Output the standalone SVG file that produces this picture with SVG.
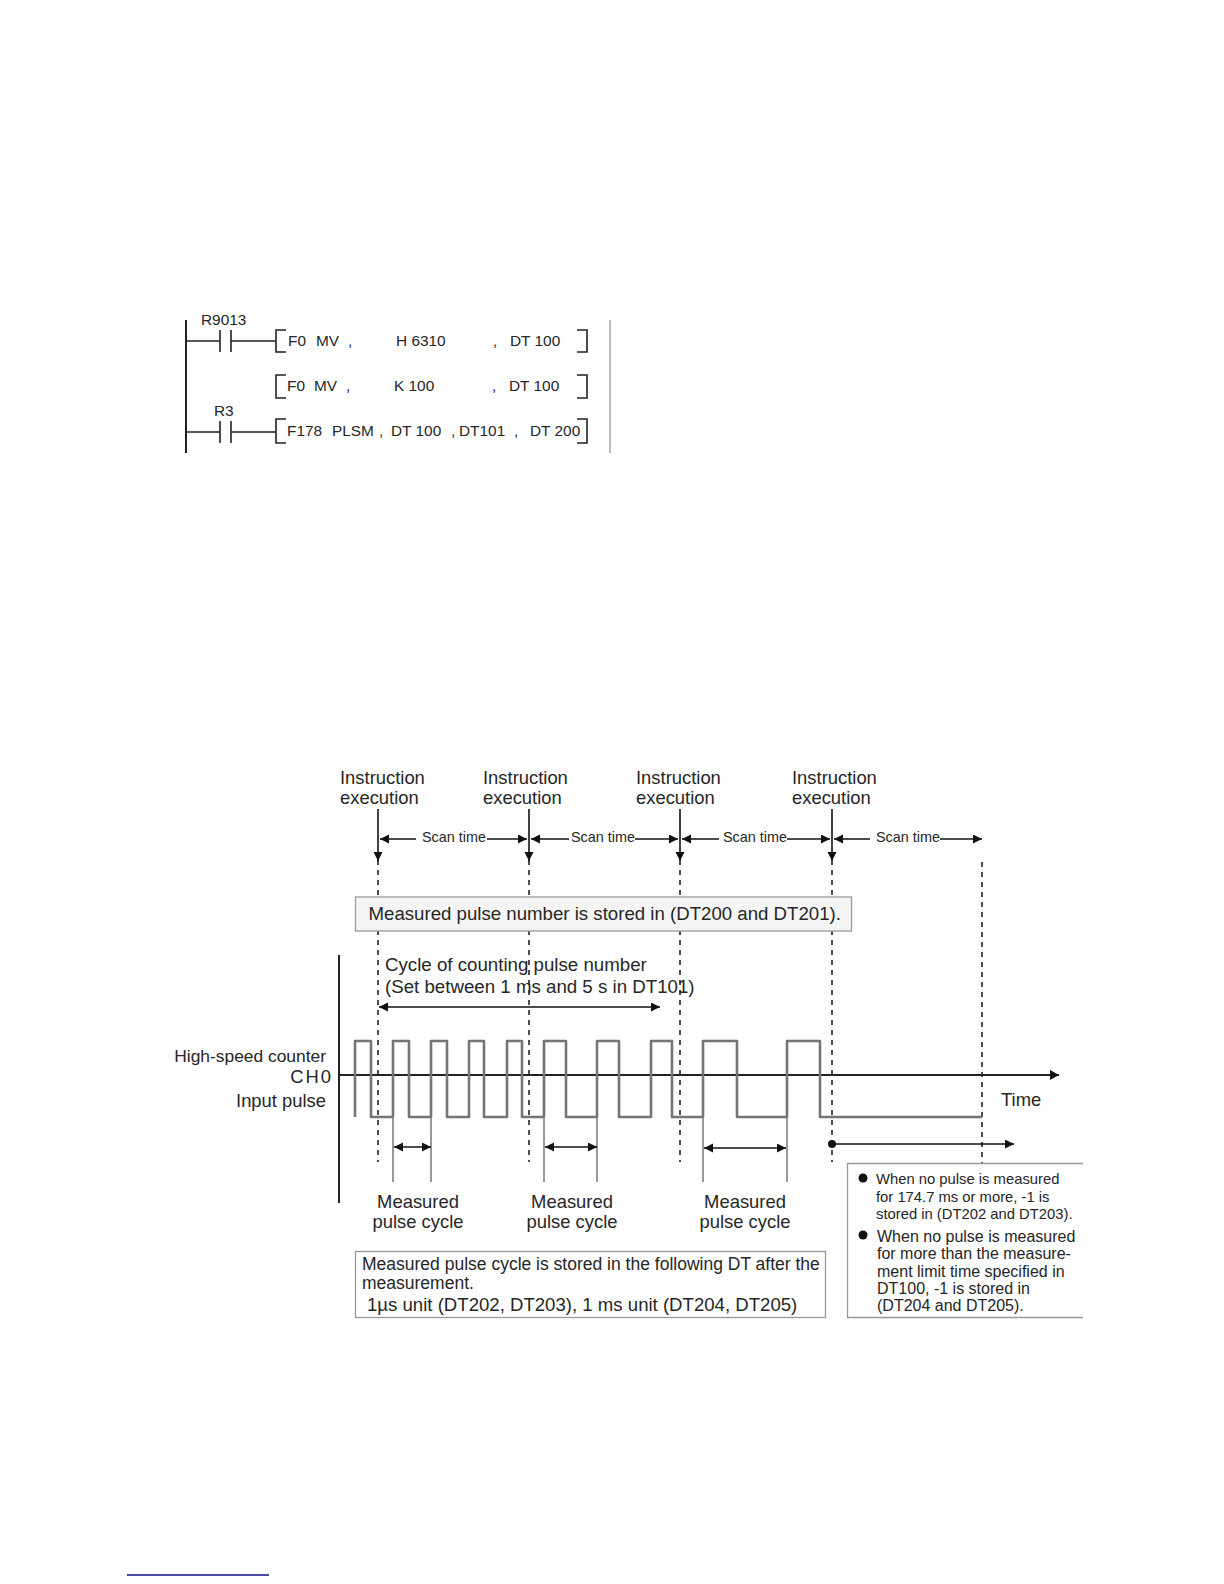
<svg xmlns="http://www.w3.org/2000/svg" width="1224" height="1584" viewBox="0 0 1224 1584">
<defs>
<marker id="ah" markerUnits="userSpaceOnUse" markerWidth="12" markerHeight="12" refX="9" refY="4.5" orient="auto-start-reverse"><path d="M0 0L9 4.5L0 9Z" fill="#111"/></marker>
<marker id="big" markerUnits="userSpaceOnUse" markerWidth="10" markerHeight="12" refX="9" refY="5" orient="auto"><path d="M0 0L9 5L0 10Z" fill="#111"/></marker>
</defs>
<style>
text{font-family:"Liberation Sans",Arial,sans-serif;fill:#262626}
.l{font-size:15.4px}
.t{font-size:18.4px}
.s{font-size:14.4px}
.n1{font-size:14.8px}
.n2{font-size:16px}
.m{text-anchor:middle}
.r{text-anchor:end}
.k{stroke:#222;fill:none;stroke-width:1.6}
.rail{stroke:#222;fill:none;stroke-width:2}
.a{stroke:#111;fill:none;stroke-width:1.6;marker-start:url(#ah);marker-end:url(#ah)}
.a1{stroke:#111;fill:none;stroke-width:1.6;marker-end:url(#ah)}
.d{stroke:#222;fill:none;stroke-width:1.6;stroke-dasharray:5 5}
.p{stroke:#757575;fill:none;stroke-width:2.6;stroke-linejoin:round}
.g{stroke:#808080;fill:none;stroke-width:1.6}
.b{stroke:#999;stroke-width:1.3;fill:#fff}
</style>
<rect width="1224" height="1584" fill="#fff"/>

<g id="ladder">
<path class="rail" d="M186 320V453"/>
<path d="M610 320V453" stroke="#aaa" stroke-width="1.6" fill="none"/>
<path class="k" d="M186 341H220M220 330V352M231 330V352M231 341H276"/>
<path class="k" d="M186 432H220M220 421V443M231 421V443M231 432H276"/>
<path class="k" d="M286 330H276V352H286M577 330H587V352H577"/>
<path class="k" d="M286 375H276V398H286M577 375H587V398H577"/>
<path class="k" d="M286 419H276V443H286M577 419H587V443H577"/>
<text class="l" x="201" y="325">R9013</text>
<text class="l" x="288" y="346">F0</text><text class="l" x="316" y="346">MV</text><text class="l" x="348" y="346">,</text><text class="l" x="396" y="346">H 6310</text><text class="l" x="493" y="346">,</text><text class="l" x="510" y="346">DT 100</text>
<text class="l" x="287" y="391">F0</text><text class="l" x="314" y="391">MV</text><text class="l" x="346" y="391">,</text><text class="l" x="394" y="391">K 100</text><text class="l" x="492" y="391">,</text><text class="l" x="509" y="391">DT 100</text>
<text class="l" x="214" y="416">R3</text>
<text class="l" x="287" y="436">F178</text><text class="l" x="332" y="436">PLSM</text><text class="l" x="379" y="436">,</text><text class="l" x="391" y="436">DT 100</text><text class="l" x="451" y="436">,</text><text class="l" x="459" y="436">DT101</text><text class="l" x="514" y="436">,</text><text class="l" x="530" y="436">DT 200</text>
</g>

<g id="connectors">
<path class="d" d="M378 860V1162M529 860V1162M680 860V1162M832 860V1162M982 862V1163"/>
<path class="a1" d="M378 809V861"/><path class="a1" d="M529 809V861"/><path class="a1" d="M680 809V861"/><path class="a1" d="M832 809V861"/>
<path class="a1" d="M416 839H380"/><path class="a1" d="M487 839H527"/>
<path class="a1" d="M569 839H531"/><path class="a1" d="M635 839H678"/>
<path class="a1" d="M719 839H682"/><path class="a1" d="M787 839H830"/>
<path class="a1" d="M870 839H834"/><path class="a1" d="M940 839H982"/>
<path class="a" d="M379 1007H660"/>
<path class="rail" d="M339 955V1203"/>
<path class="rail" d="M339 1075H1059" marker-end="url(#big)"/>
<path class="p" d="M355 1117V1041H371V1117H393V1041H409V1117H431V1041H447V1117H469V1041H484V1117H507V1041H522V1117H544V1041H566V1117H597V1041H619V1117H651V1041H672V1117H703V1041H737V1117H787V1041H820V1117H982"/>
<path class="g" d="M393 1117V1182M431 1117V1182M544 1117V1182M597 1117V1182M703 1117V1182M787 1117V1182"/>
<path class="a" d="M394 1147H431"/><path class="a" d="M545 1147H597"/><path class="a" d="M704 1148H786"/>
<circle cx="832" cy="1144" r="4" fill="#111"/>
<path class="a1" d="M832 1144H1014"/>
</g>

<g id="exec1"><text class="t" x="340" y="784">Instruction</text><text class="t" x="340" y="804">execution</text></g>
<g id="exec2"><text class="t" x="483" y="784">Instruction</text><text class="t" x="483" y="804">execution</text></g>
<g id="exec3"><text class="t" x="636" y="784">Instruction</text><text class="t" x="636" y="804">execution</text></g>
<g id="exec4"><text class="t" x="792" y="784">Instruction</text><text class="t" x="792" y="804">execution</text></g>

<g id="scan-labels">
<text class="s" x="422" y="842">Scan time</text>
<text class="s" x="571" y="842">Scan time</text>
<text class="s" x="723" y="842">Scan time</text>
<text class="s" x="876" y="842">Scan time</text>
</g>

<g id="stored-number"><rect x="355.5" y="897" width="496" height="34" fill="#f5f5f5" stroke="#999" stroke-width="1.3"/><text x="368.5" y="920" font-size="18.65">Measured pulse number is stored in (DT200 and DT201).</text></g>

<g id="cycle-label"><text x="385" y="971" font-size="18.7">Cycle of counting pulse number</text><text x="385" y="993" font-size="18.7">(Set between 1 ms and 5 s in DT101)</text></g>

<g id="signal-label">
<text x="326" y="1062" font-size="17.4" text-anchor="end">High-speed counter</text>
<text class="t r" x="333" y="1083" letter-spacing="2">CH0</text>
<text class="t r" x="326" y="1107">Input pulse</text>
</g>
<g id="time-label"><text class="t" x="1001" y="1106">Time</text></g>

<g id="measured1"><text class="t m" x="418" y="1208">Measured</text><text class="t m" x="418" y="1228">pulse cycle</text></g>
<g id="measured2"><text class="t m" x="572" y="1208">Measured</text><text class="t m" x="572" y="1228">pulse cycle</text></g>
<g id="measured3"><text class="t m" x="745" y="1208">Measured</text><text class="t m" x="745" y="1228">pulse cycle</text></g>

<g id="stored-cycle"><rect class="b" x="355.5" y="1251.5" width="470" height="66"/>
<text x="362" y="1270" font-size="17.5">Measured pulse cycle is stored in the following DT after the</text>
<text x="362" y="1289" font-size="17.5">measurement.</text>
<text x="367" y="1311" font-size="18.6">1µs unit (DT202, DT203), 1 ms unit (DT204, DT205)</text></g>

<g id="no-pulse-note">
<path d="M1083 1163.5H847.5V1317.5H1083" fill="#fff" stroke="#999" stroke-width="1.3"/>
<circle cx="863" cy="1178" r="4.5" fill="#111"/>
<text class="n1" x="876" y="1184">When no pulse is measured</text>
<text class="n1" x="876" y="1202">for 174.7 ms or more, -1 is</text>
<text class="n1" x="876" y="1219">stored in (DT202 and DT203).</text>
<circle cx="863" cy="1235" r="4.5" fill="#111"/>
<text class="n2" x="877" y="1242">When no pulse is measured</text>
<text class="n2" x="877" y="1259">for more than the measure-</text>
<text class="n2" x="877" y="1277">ment limit time specified in</text>
<text class="n2" x="877" y="1294">DT100, -1 is stored in</text>
<text class="n2" x="877" y="1311">(DT204 and DT205).</text>
</g>

<path id="footer-rule" d="M127 1575H269" stroke="#101080" stroke-width="1.3" fill="none"/>
</svg>
